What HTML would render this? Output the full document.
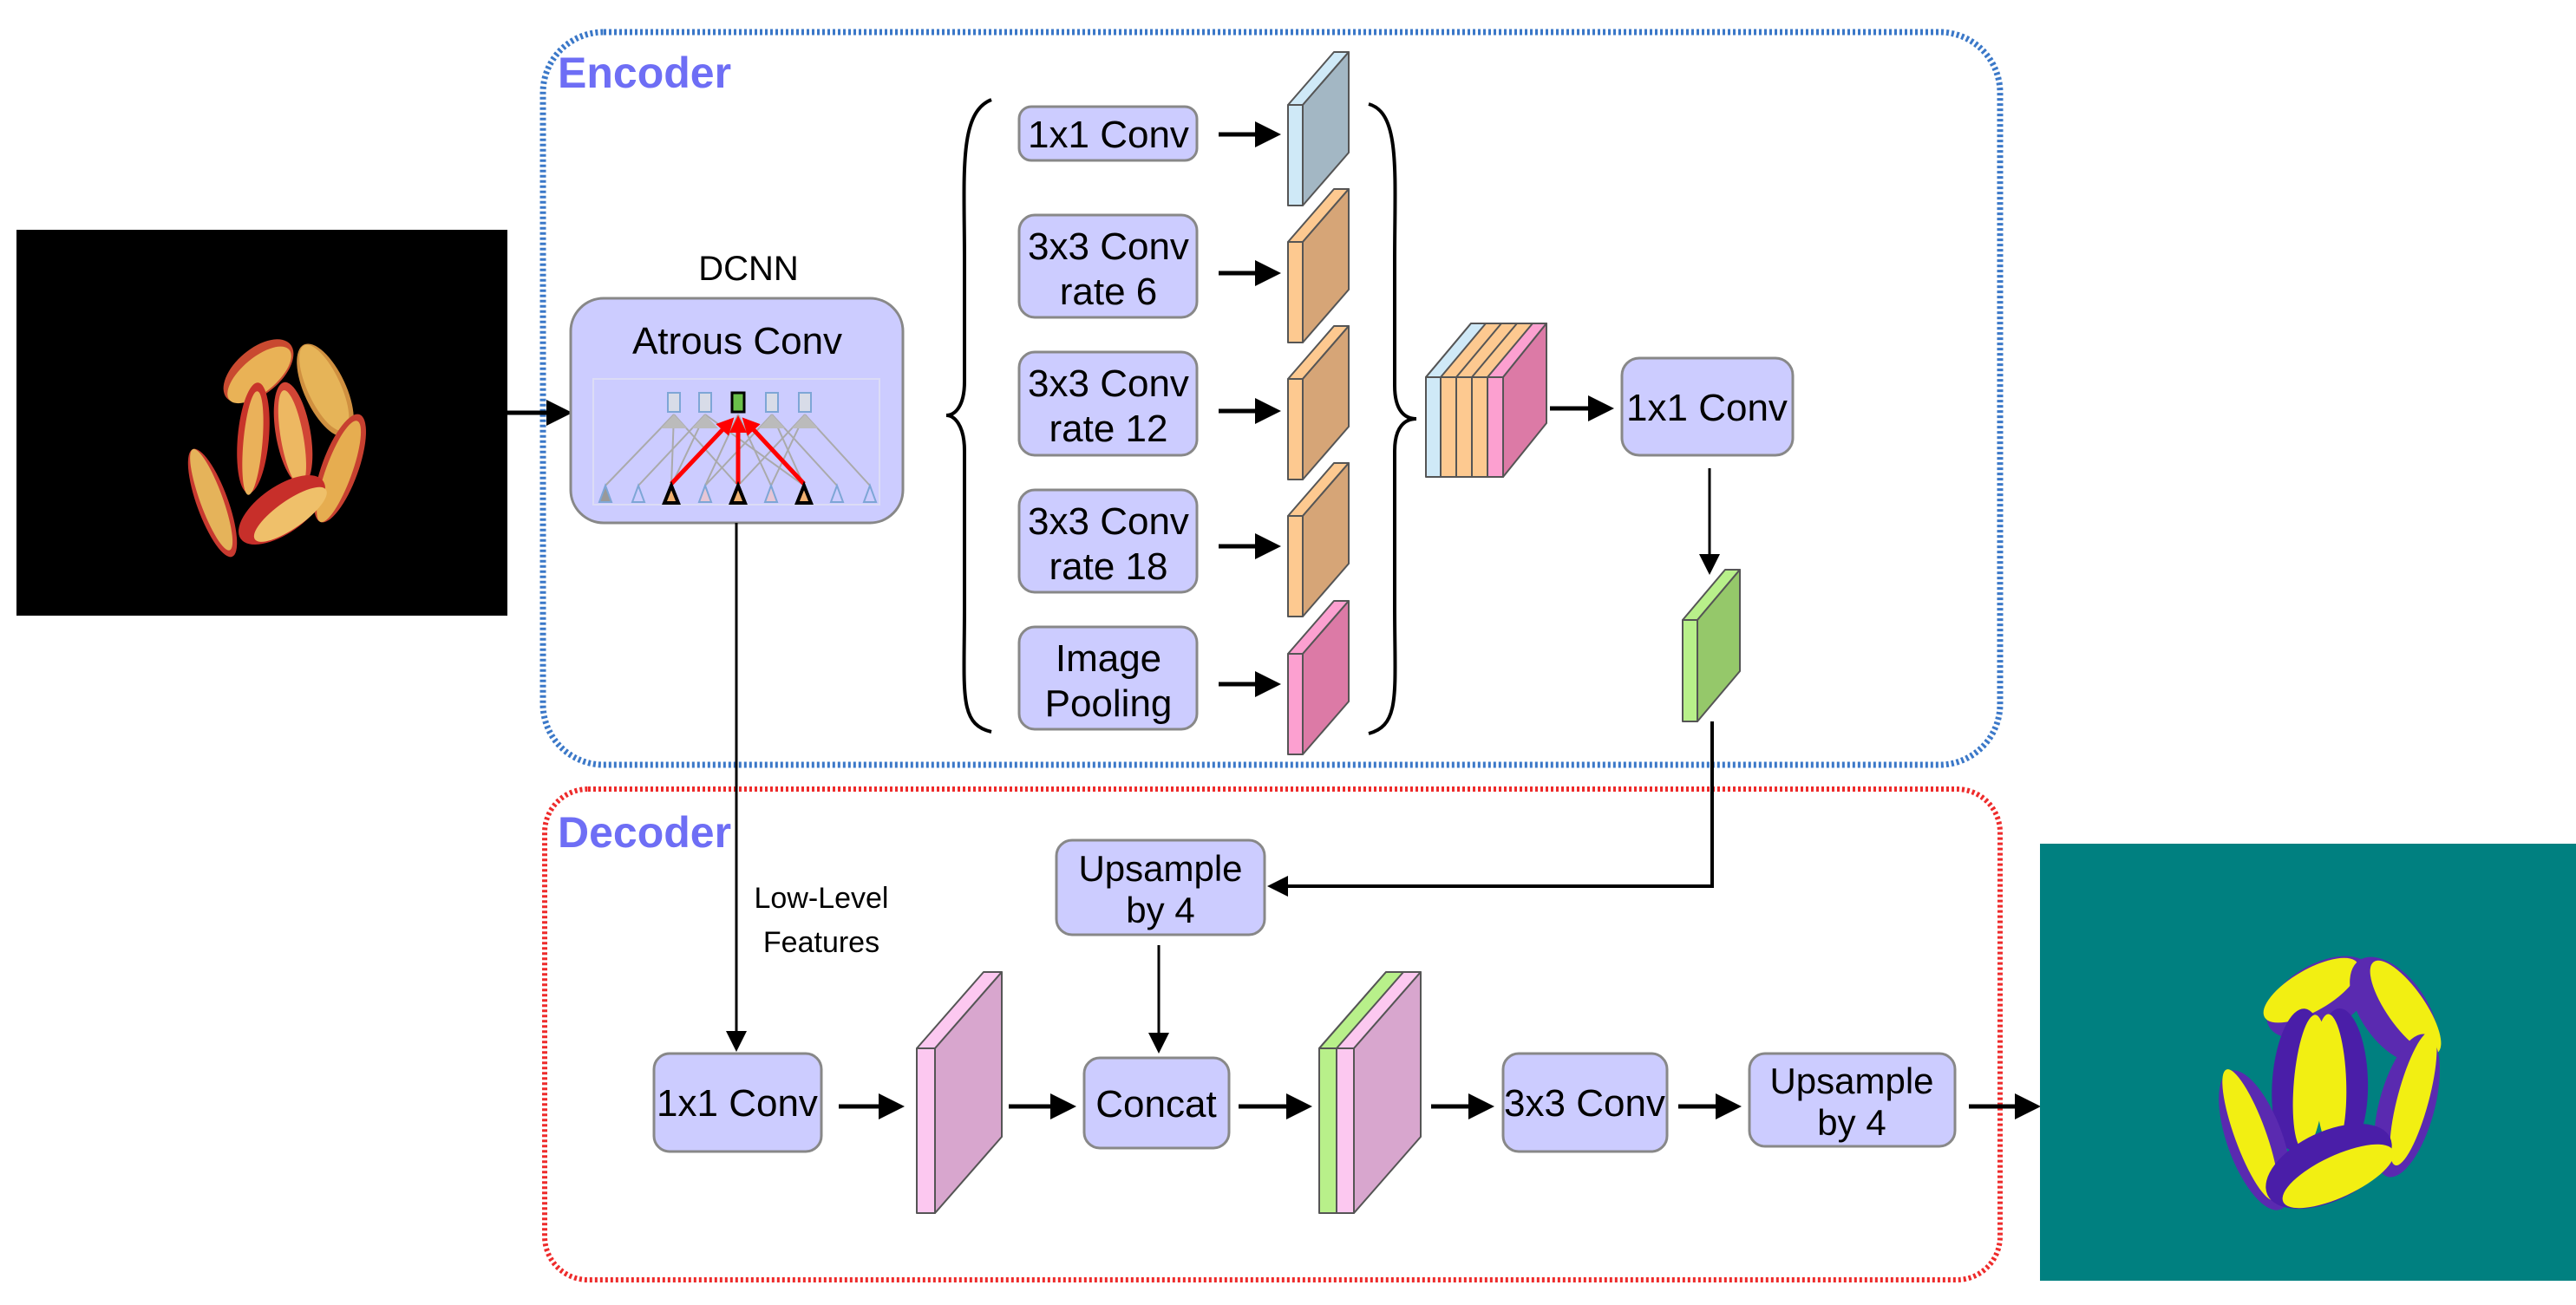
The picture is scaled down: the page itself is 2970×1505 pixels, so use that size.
<!DOCTYPE html>
<html><head><meta charset="utf-8"><style>
html,body{margin:0;padding:0;background:#fff;}
svg{display:block;}
text{font-family:"Liberation Sans",sans-serif;}
</style></head><body>
<svg width="2970" height="1505" viewBox="0 0 2970 1505" xmlns="http://www.w3.org/2000/svg">
<defs>
<marker id="ah" markerWidth="6" markerHeight="6" refX="5" refY="3" orient="auto" markerUnits="strokeWidth"><path d="M0,0 L6,3 L0,6 Z" fill="#000"/></marker>
<marker id="ah2" markerWidth="8" markerHeight="8" refX="7" refY="4" orient="auto" markerUnits="strokeWidth"><path d="M0,0 L8,4 L0,8 Z" fill="#000"/></marker>
<marker id="ahr" markerWidth="4" markerHeight="4" refX="3" refY="2" orient="auto" markerUnits="strokeWidth"><path d="M0,0 L4,2 L0,4 Z" fill="#f00"/></marker>
</defs>

<!-- Input image -->
<rect x="19" y="265" width="566" height="445" fill="#000"/>
<g>
<g transform="rotate(-40 298 428)"><ellipse cx="298" cy="428" rx="48" ry="26" fill="#c94a30"/><ellipse cx="296" cy="432" rx="45" ry="20" fill="#e9b256"/></g>
<g transform="rotate(65 375 450)"><ellipse cx="375" cy="450" rx="58" ry="24" fill="#d09040"/><ellipse cx="372" cy="450" rx="54" ry="19" fill="#e6b458"/></g>
<g transform="rotate(95 292 505)"><ellipse cx="292" cy="505" rx="64" ry="18" fill="#c8342a"/><ellipse cx="298" cy="505" rx="60" ry="11" fill="#eab15a"/></g>
<g transform="rotate(80 338 500)"><ellipse cx="338" cy="500" rx="60" ry="20" fill="#d14535"/><ellipse cx="343" cy="502" rx="56" ry="13" fill="#edb862"/></g>
<g transform="rotate(-70 392 540)"><ellipse cx="392" cy="540" rx="66" ry="21" fill="#c74030"/><ellipse cx="388" cy="540" rx="62" ry="15" fill="#e6ad50"/></g>
<g transform="rotate(70 245 580)"><ellipse cx="245" cy="580" rx="66" ry="18" fill="#c83a30"/><ellipse cx="241" cy="580" rx="62" ry="13" fill="#e5b35a"/></g>
<g transform="rotate(-35 325 588)"><ellipse cx="325" cy="588" rx="58" ry="27" fill="#c72f2a"/><ellipse cx="330" cy="598" rx="50" ry="16" fill="#efc06a"/></g>
</g>

<!-- Encoder/Decoder frames -->
<rect x="626" y="37" width="1680" height="845" rx="70" fill="none" stroke="#3b78c8" stroke-width="7" stroke-dasharray="3 3"/>
<rect x="628" y="910" width="1678" height="566" rx="50" fill="none" stroke="#ee2b2b" stroke-width="6" stroke-dasharray="3 3"/>
<text x="643" y="101" font-size="50" font-weight="bold" fill="#6e6ef5">Encoder</text>
<text x="643" y="977" font-size="50" font-weight="bold" fill="#6e6ef5">Decoder</text>

<line x1="585" y1="476" x2="655" y2="476" stroke="#000" stroke-width="5" marker-end="url(#ah)"/>

<!-- DCNN -->
<text x="863" y="323" font-size="40" text-anchor="middle">DCNN</text>
<rect x="658" y="344" width="383" height="259" rx="38" fill="#ccccff" stroke="#888" stroke-width="3"/>
<text x="850" y="408" font-size="44" text-anchor="middle">Atrous Conv</text>
<rect x="684" y="437" width="330" height="145" fill="none" stroke="#dcdcf5" stroke-width="2"/>
<g stroke="#aaa" stroke-width="2">
<line x1="698" y1="560" x2="777" y2="478"/><line x1="736" y1="560" x2="813" y2="478"/>
<line x1="813" y1="560" x2="851" y2="478"/><line x1="889" y1="560" x2="851" y2="478"/>
<line x1="774" y1="560" x2="777" y2="478"/><line x1="813" y1="560" x2="890" y2="478"/>
<line x1="851" y1="560" x2="777" y2="478"/><line x1="927" y1="560" x2="890" y2="478"/>
<line x1="889" y1="560" x2="928" y2="478"/><line x1="965" y1="560" x2="890" y2="478"/>
<line x1="927" y1="560" x2="813" y2="478"/><line x1="1003" y1="560" x2="928" y2="478"/>
<line x1="851" y1="560" x2="928" y2="478"/><line x1="774" y1="560" x2="813" y2="478"/>
</g>
<g fill="#bbb">
<path d="M777,478 l-15,16 h30z"/><path d="M813,478 l-15,16 h30z"/><path d="M890,478 l-15,16 h30z"/><path d="M928,478 l-15,16 h30z"/>
</g>
<g fill="#d8dce8" stroke="#7ea6d6" stroke-width="2">
<rect x="770" y="453" width="14" height="22"/><rect x="806" y="453" width="14" height="22"/>
<rect x="883" y="453" width="14" height="22"/><rect x="921" y="453" width="14" height="22"/>
</g>
<rect x="844" y="453" width="14" height="22" fill="#6ac04a" stroke="#000" stroke-width="3"/>
<g stroke="#f00" stroke-width="5">
<line x1="774" y1="558" x2="843" y2="485" marker-end="url(#ahr)"/>
<line x1="851" y1="558" x2="851" y2="484" marker-end="url(#ahr)"/>
<line x1="927" y1="558" x2="859" y2="485" marker-end="url(#ahr)"/>
</g>
<g stroke-width="2">
<path d="M698,560 l-7,19 h14z" fill="#999" stroke="#7ea6d6"/>
<path d="M736,560 l-7,19 h14z" fill="none" stroke="#7ea6d6"/>
<path d="M813,560 l-7,19 h14z" fill="#e6c6d6" stroke="#7ea6d6"/>
<path d="M889,560 l-7,19 h14z" fill="#e6c6d6" stroke="#7ea6d6"/>
<path d="M965,560 l-7,19 h14z" fill="none" stroke="#7ea6d6"/>
<path d="M1003,560 l-7,19 h14z" fill="none" stroke="#7ea6d6"/>
<path d="M774,560 l-8,20 h16z" fill="#f0b070" stroke="#000" stroke-width="4"/>
<path d="M851,560 l-8,20 h16z" fill="#f0b070" stroke="#000" stroke-width="4"/>
<path d="M927,560 l-8,20 h16z" fill="#f0b070" stroke="#000" stroke-width="4"/>
</g>

<path d="M1143,115 C1105,130 1112,200 1112,300 L1112,440 C1112,470 1100,479 1091,479 C1100,479 1112,490 1112,520 L1112,700 C1112,800 1105,835 1143,844" fill="none" stroke="#000" stroke-width="4"/>

<g fill="#ccccff" stroke="#888" stroke-width="3">
<rect x="1175" y="123" width="205" height="62" rx="14"/>
<rect x="1175" y="248" width="205" height="118" rx="18"/>
<rect x="1175" y="406" width="205" height="119" rx="18"/>
<rect x="1175" y="565" width="205" height="118" rx="18"/>
<rect x="1175" y="723" width="205" height="118" rx="18"/>
</g>
<g font-size="44" text-anchor="middle">
<text x="1278" y="170">1x1 Conv</text>
<text x="1278" y="299">3x3 Conv</text><text x="1278" y="351">rate 6</text>
<text x="1278" y="457">3x3 Conv</text><text x="1278" y="509">rate 12</text>
<text x="1278" y="616">3x3 Conv</text><text x="1278" y="668">rate 18</text>
<text x="1278" y="774">Image</text><text x="1278" y="826">Pooling</text>
</g>
<g stroke="#000" stroke-width="5">
<line x1="1405" y1="155" x2="1472" y2="155" marker-end="url(#ah)"/>
<line x1="1405" y1="315" x2="1472" y2="315" marker-end="url(#ah)"/>
<line x1="1405" y1="474" x2="1472" y2="474" marker-end="url(#ah)"/>
<line x1="1405" y1="630" x2="1472" y2="630" marker-end="url(#ah)"/>
<line x1="1405" y1="789" x2="1472" y2="789" marker-end="url(#ah)"/>
</g>

<g stroke="#555" stroke-width="2" stroke-linejoin="round">
<g><path d="M1485,121 l53,-61 h17 l-53,61z" fill="#cfe9f7"/><rect x="1485" y="121" width="17" height="116" fill="#cfe9f7"/><path d="M1502,121 l53,-61 v116 l-53,61z" fill="#a3b7c4"/></g>
<g><path d="M1485,279 l53,-61 h17 l-53,61z" fill="#fdc990"/><rect x="1485" y="279" width="17" height="116" fill="#fdc990"/><path d="M1502,279 l53,-61 v116 l-53,61z" fill="#d6a577"/></g>
<g><path d="M1485,437 l53,-61 h17 l-53,61z" fill="#fdc990"/><rect x="1485" y="437" width="17" height="116" fill="#fdc990"/><path d="M1502,437 l53,-61 v116 l-53,61z" fill="#d6a577"/></g>
<g><path d="M1485,595 l53,-61 h17 l-53,61z" fill="#fdc990"/><rect x="1485" y="595" width="17" height="116" fill="#fdc990"/><path d="M1502,595 l53,-61 v116 l-53,61z" fill="#d6a577"/></g>
<g><path d="M1485,754 l53,-61 h17 l-53,61z" fill="#fca0d0"/><rect x="1485" y="754" width="17" height="116" fill="#fca0d0"/><path d="M1502,754 l53,-61 v116 l-53,61z" fill="#dc7aa6"/></g>
</g>

<path d="M1578,120 C1615,130 1608,200 1608,300 L1608,445 C1608,474 1620,483 1633,483 C1620,483 1608,492 1608,520 L1608,700 C1608,800 1615,836 1578,846" fill="none" stroke="#000" stroke-width="4"/>

<g stroke="#555" stroke-width="2" stroke-linejoin="round">
<path d="M1644,435 l52,-62 h87 l-50,62z" fill="#fdc990"/>
<path d="M1644,435 l52,-62 h17 l-52,62z" fill="#cfe9f7"/>
<path d="M1715,435 l52,-62 h16 l-50,62z" fill="#fca0d0"/>
<path d="M1679,435 l52,-62 M1697,435 l52,-62" fill="none"/>
<rect x="1644" y="435" width="17" height="115" fill="#cfe9f7"/>
<rect x="1661" y="435" width="18" height="115" fill="#fdc990"/>
<rect x="1679" y="435" width="18" height="115" fill="#fdc990"/>
<rect x="1697" y="435" width="18" height="115" fill="#fdc990"/>
<rect x="1715" y="435" width="18" height="115" fill="#fca0d0"/>
<path d="M1733,435 l50,-62 v115 l-50,62z" fill="#dc7aa6"/>
</g>
<line x1="1787" y1="471" x2="1856" y2="471" stroke="#000" stroke-width="5" marker-end="url(#ah)"/>
<rect x="1870" y="413" width="197" height="112" rx="20" fill="#ccccff" stroke="#888" stroke-width="3"/>
<text x="1968" y="485" font-size="44" text-anchor="middle">1x1 Conv</text>
<line x1="1971" y1="540" x2="1971" y2="660" stroke="#000" stroke-width="3" marker-end="url(#ah2)"/>
<g stroke="#555" stroke-width="2" stroke-linejoin="round">
<path d="M1940,715 l49,-58 h17 l-49,58z" fill="#b8f08a"/>
<rect x="1940" y="715" width="17" height="117" fill="#b8f08a"/>
<path d="M1957,715 l49,-58 v117 l-49,58z" fill="#95c86a"/>
</g>

<line x1="849" y1="603" x2="849" y2="1210" stroke="#000" stroke-width="3" marker-end="url(#ah2)"/>
<text x="947" y="1047" font-size="34" text-anchor="middle">Low-Level</text>
<text x="947" y="1098" font-size="34" text-anchor="middle">Features</text>

<polyline points="1974,832 1974,1022 1465,1022" fill="none" stroke="#000" stroke-width="4" marker-end="url(#ah)"/>
<rect x="1218" y="969" width="240" height="109" rx="18" fill="#ccccff" stroke="#888" stroke-width="3"/>
<text x="1338" y="1016" font-size="42" text-anchor="middle">Upsample</text>
<text x="1338" y="1064" font-size="42" text-anchor="middle">by 4</text>
<line x1="1336" y1="1090" x2="1336" y2="1212" stroke="#000" stroke-width="3" marker-end="url(#ah2)"/>

<g fill="#ccccff" stroke="#888" stroke-width="3">
<rect x="754" y="1215" width="193" height="113" rx="18"/>
<rect x="1250" y="1220" width="167" height="104" rx="18"/>
<rect x="1733" y="1215" width="189" height="113" rx="18"/>
<rect x="2017" y="1215" width="237" height="107" rx="18"/>
</g>
<g font-size="44" text-anchor="middle">
<text x="850" y="1287">1x1 Conv</text>
<text x="1333" y="1288">Concat</text>
<text x="1827" y="1287">3x3 Conv</text>
</g>
<text x="2135" y="1261" font-size="42" text-anchor="middle">Upsample</text>
<text x="2135" y="1309" font-size="42" text-anchor="middle">by 4</text>

<g stroke="#555" stroke-width="2" stroke-linejoin="round">
<path d="M1057,1209 l77,-88 h21 l-77,88z" fill="#fcc8f0"/>
<rect x="1057" y="1209" width="21" height="190" fill="#fcc8f0"/>
<path d="M1078,1209 l77,-88 v190 l-77,88z" fill="#d8a6ce"/>
</g>
<g stroke="#555" stroke-width="2" stroke-linejoin="round">
<path d="M1521,1209 l77,-88 h40 l-77,88z" fill="#fcc8f0"/>
<path d="M1521,1209 l77,-88 h20 l-77,88z" fill="#b8f08a"/>
<rect x="1521" y="1209" width="20" height="190" fill="#b8f08a"/>
<rect x="1541" y="1209" width="20" height="190" fill="#fcc8f0"/>
<path d="M1561,1209 l77,-88 v190 l-77,88z" fill="#d8a6ce"/>
</g>

<g stroke="#000" stroke-width="5">
<line x1="967" y1="1276" x2="1038" y2="1276" marker-end="url(#ah)"/>
<line x1="1163" y1="1276" x2="1236" y2="1276" marker-end="url(#ah)"/>
<line x1="1428" y1="1276" x2="1508" y2="1276" marker-end="url(#ah)"/>
<line x1="1650" y1="1276" x2="1718" y2="1276" marker-end="url(#ah)"/>
<line x1="1935" y1="1276" x2="2003" y2="1276" marker-end="url(#ah)"/>
<line x1="2270" y1="1276" x2="2348" y2="1276" marker-end="url(#ah)"/>
</g>

<rect x="2352" y="973" width="618" height="504" fill="#008080"/>
<g>
<g transform="rotate(-30 2675 1150)"><ellipse cx="2675" cy="1150" rx="68" ry="38" fill="#5a2ab0"/><ellipse cx="2670" cy="1138" rx="62" ry="24" fill="#f2ef12"/></g>
<g transform="rotate(55 2760 1165)"><ellipse cx="2760" cy="1165" rx="70" ry="38" fill="#5a2ab0"/><ellipse cx="2765" cy="1152" rx="64" ry="22" fill="#f2ef12"/></g>
<g transform="rotate(95 2650 1245)"><ellipse cx="2650" cy="1245" rx="82" ry="30" fill="#4a1ea8"/><ellipse cx="2652" cy="1232" rx="78" ry="18" fill="#f2ef12"/></g>
<g transform="rotate(88 2700 1245)"><ellipse cx="2700" cy="1245" rx="82" ry="30" fill="#4a1ea8"/><ellipse cx="2702" cy="1258" rx="78" ry="18" fill="#f2ef12"/></g>
<g transform="rotate(-75 2775 1275)"><ellipse cx="2775" cy="1275" rx="85" ry="32" fill="#5a2ab0"/><ellipse cx="2785" cy="1280" rx="80" ry="18" fill="#f2ef12"/></g>
<g transform="rotate(70 2600 1315)"><ellipse cx="2600" cy="1315" rx="85" ry="32" fill="#5a2ab0"/><ellipse cx="2592" cy="1318" rx="80" ry="18" fill="#f2ef12"/></g>
<g transform="rotate(-25 2685 1345)"><ellipse cx="2685" cy="1345" rx="78" ry="40" fill="#4a1ea8"/><ellipse cx="2690" cy="1360" rx="70" ry="24" fill="#f2ef12"/></g>
</g>
</svg>
</body></html>
